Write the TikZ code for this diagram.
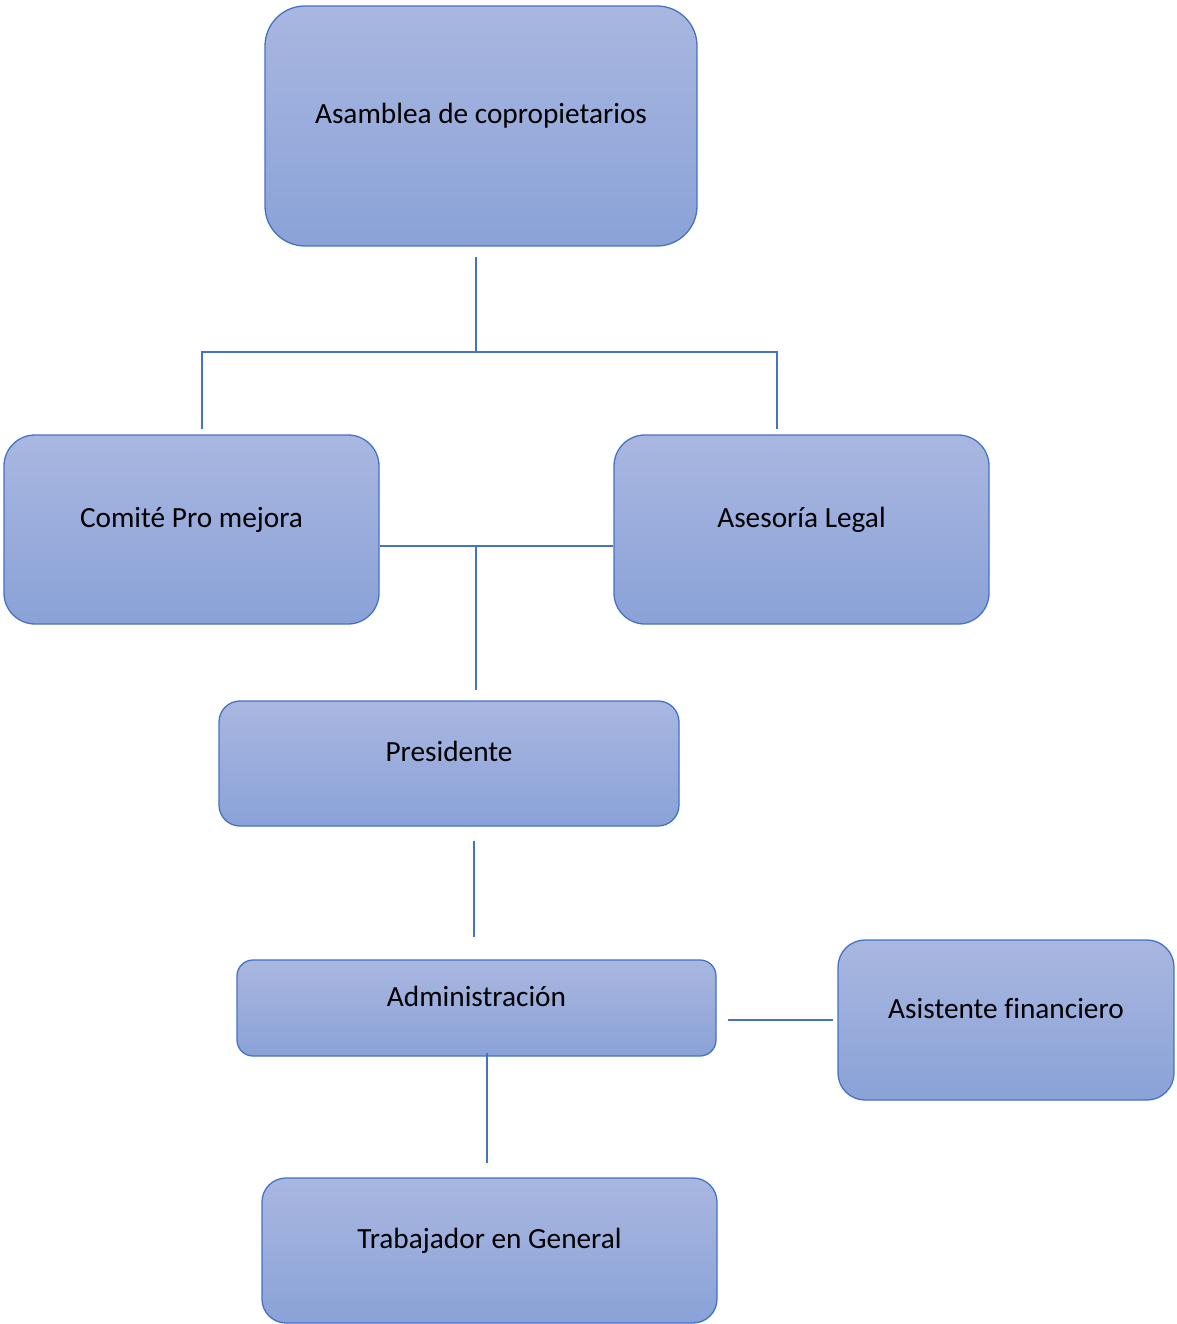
\documentclass[tikz,border=0pt]{standalone}
\usepackage{fontspec}
\setmainfont{Carlito}[Ligatures=NoCommon]
\usetikzlibrary{positioning}
\definecolor{boxline}{HTML}{4472C4}
\definecolor{boxtop}{HTML}{A9B7E0}
\definecolor{boxbottom}{HTML}{8AA2D8}
\begin{document}
\begin{tikzpicture}[x=1pt, y=-1pt,
    unit/.style={draw=boxline, line width=1.3pt, rectangle, top color=boxtop, bottom color=boxbottom,
        font=\fontsize{29.3}{35}\selectfont, text height=20pt, text depth=24pt, inner sep=0pt},
    link/.style={draw=boxline, line width=1.1pt}]
            \useasboundingbox (0,0) rectangle (1176,1324);
            % Organization chart
            \node[unit, minimum width=432pt, minimum height=240pt, rounded corners=40pt] (asamblea) at (481,126) {Asamblea de copropietarios};
            \node[unit, minimum width=375pt, minimum height=189pt, rounded corners=31pt] (comite) at (191.5,529.5) {Comité Pro mejora};
            \node[unit, minimum width=375pt, minimum height=189pt, rounded corners=31pt] (asesoria) at (801.5,529.5) {Asesoría Legal};
            \node[unit, minimum width=460pt, minimum height=125pt, rounded corners=21pt] (presidente) at (449,763.5) {Presidente};
            \node[unit, minimum width=479pt, minimum height=96pt, rounded corners=16pt] (admin) at (476.5,1008) {Administración};
            \node[unit, minimum width=336pt, minimum height=160pt, rounded corners=27pt] (asistente) at (1006,1020) {Asistente financiero};
            \node[unit, minimum width=455pt, minimum height=145pt, rounded corners=24pt] (trabajador) at (489.5,1250.5) {Trabajador en General};

            \coordinate (jtop) at (476,352);
            \coordinate (jmid) at (476,546);

            \draw[link, shorten <=10pt] (asamblea.south -| jtop) -- (jtop);
            \draw[link] ([xshift=10.5pt,yshift=5pt]comite.north) |- (jtop) -| ([xshift=-24.5pt,yshift=5pt]asesoria.north);
            \draw[link] (comite.east |- jmid) -- (asesoria.west |- jmid);
            \draw[link, shorten >=10pt] (jmid) -- (presidente.north -| jmid);
            \draw[link, shorten <=14pt, shorten >=22pt] ([xshift=-2.5pt]admin.north |- presidente.south) -- ([xshift=-2.5pt]admin.north);
            \draw[link, shorten <=11pt, shorten >=4pt] (admin.east |- asistente.west) -- (asistente.west);
            \draw[link, shorten <=-4pt, shorten >=14pt] ([xshift=-2.5pt]trabajador.north |- admin.south) -- ([xshift=-2.5pt]trabajador.north);
        \end{tikzpicture}
\end{document}
